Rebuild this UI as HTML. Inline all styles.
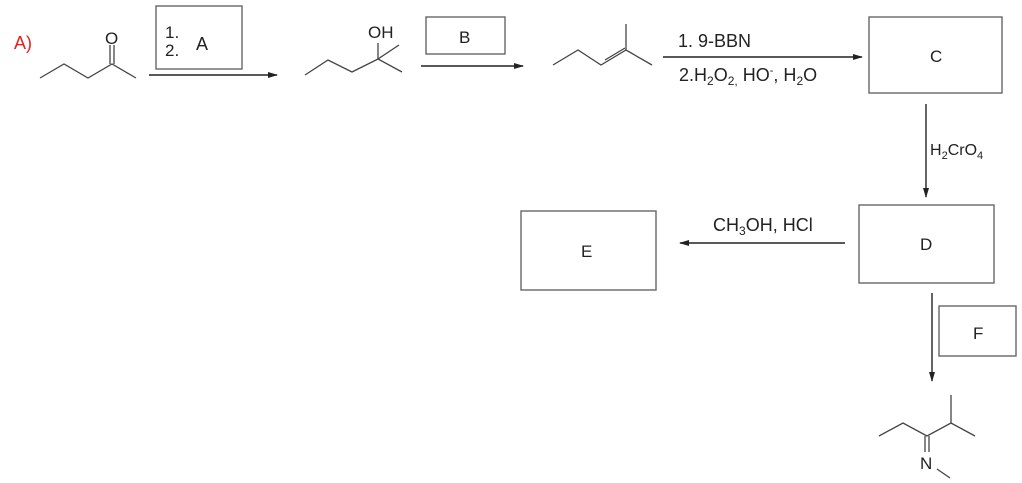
<!DOCTYPE html>
<html><head><meta charset="utf-8"><style>
html,body{margin:0;padding:0;background:#fff;}
svg{display:block;}
text{font-family:"Liberation Sans",Arial,sans-serif;fill:#222;}
</style></head><body>
<svg width="1022" height="483" viewBox="0 0 1022 483" xmlns="http://www.w3.org/2000/svg">
<defs><marker id="ah" markerWidth="10" markerHeight="6" refX="9" refY="3" orient="auto" markerUnits="userSpaceOnUse"><path d="M0,0 L10,3 L0,6 z" fill="#222"/></marker></defs>
<g stroke="#444" stroke-width="1.3" fill="none">
<polyline points="40,78 64,64 88,78 112,64 136,78"/>
<line x1="110" y1="64" x2="110" y2="45"/><line x1="114" y1="64" x2="114" y2="45"/>
<polyline points="305,75 328,60 352,72 378,59 402,72"/>
<line x1="378" y1="59" x2="378" y2="43"/><line x1="378" y1="59" x2="399" y2="45"/>
<polyline points="553,65 578,50 601,65 626,50 652,65"/>
<line x1="605" y1="60" x2="625" y2="48"/>
<line x1="626" y1="50" x2="626" y2="24"/>
<polyline points="879,436 903,423 927,436 951,423 975,436"/>
<line x1="951" y1="423" x2="951" y2="395"/>
<line x1="925" y1="436" x2="925" y2="452"/><line x1="929" y1="436" x2="929" y2="452"/>
<line x1="937" y1="469" x2="950" y2="478"/>
</g>
<g stroke="#666" stroke-width="1.4" fill="#fff">
<rect x="156" y="6" width="86" height="63"/>
<rect x="426" y="17" width="79" height="37"/>
<rect x="869" y="17" width="133" height="76"/>
<rect x="859" y="205" width="135" height="78"/>
<rect x="521" y="211" width="135" height="79"/>
<rect x="939" y="306" width="77" height="50"/>
</g>
<g stroke="#222" stroke-width="1.4" marker-end="url(#ah)">
<line x1="149" y1="75" x2="277" y2="75"/>
<line x1="421" y1="66" x2="523" y2="66"/>
<line x1="663" y1="57" x2="862" y2="57"/>
<line x1="926" y1="104" x2="926" y2="197"/>
<line x1="845" y1="243" x2="680" y2="243"/>
<line x1="932" y1="293" x2="932" y2="381"/>
</g>
<text x="14" y="49" font-size="18" style="fill:#e52020">A)</text>
<text x="105" y="44" font-size="17">O</text>
<text x="165" y="38" font-size="17">1.</text>
<text x="165" y="56" font-size="17">2.</text>
<text x="196" y="50" font-size="18">A</text>
<text x="368" y="38" font-size="17">OH</text>
<text x="459" y="43" font-size="17">B</text>
<text x="678" y="47" font-size="18">1. 9-BBN</text>
<text x="679" y="81" font-size="18">2.H<tspan font-size="12" dy="4">2</tspan><tspan dy="-4">O</tspan><tspan font-size="12" dy="4">2,</tspan><tspan dy="-4"> HO</tspan><tspan font-size="11" dy="-7">-</tspan><tspan dy="7">, H</tspan><tspan font-size="12" dy="4">2</tspan><tspan dy="-4">O</tspan></text>
<text x="930" y="62" font-size="17">C</text>
<text x="930" y="155" font-size="16">H<tspan font-size="11" dy="4">2</tspan><tspan dy="-4">CrO</tspan><tspan font-size="11" dy="4">4</tspan></text>
<text x="920" y="250" font-size="17">D</text>
<text x="713" y="231" font-size="18">CH<tspan font-size="12" dy="4">3</tspan><tspan dy="-4">OH, HCl</tspan></text>
<text x="581" y="257" font-size="17">E</text>
<text x="973" y="339" font-size="17">F</text>
<text x="920" y="469" font-size="17">N</text>
</svg>
</body></html>
